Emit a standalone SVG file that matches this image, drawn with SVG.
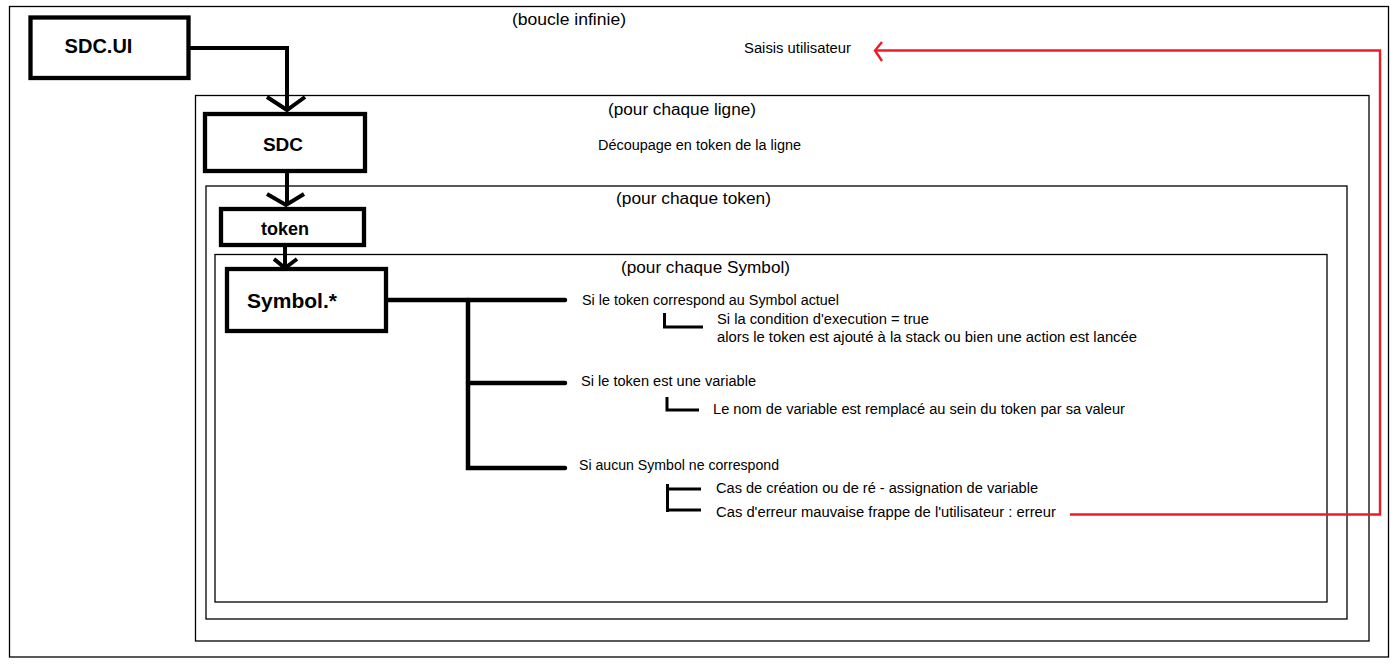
<svg xmlns="http://www.w3.org/2000/svg" width="1400" height="668" viewBox="0 0 1400 668">
<defs>
<style>
.frame{fill:none;stroke:#000;stroke-width:1.3}
.node{fill:#fff;stroke:#000;stroke-width:4.3}
.nt{font-family:"Liberation Sans",Arial,sans-serif;font-weight:bold;fill:#000;text-anchor:middle}
.t{font-family:"Liberation Sans",Arial,sans-serif;font-size:14px;fill:#000}
.h{font-family:"Liberation Sans",Arial,sans-serif;font-size:16px;fill:#000}
.c{fill:none;stroke:#000;stroke-width:4;stroke-linejoin:miter}
.b{fill:none;stroke:#000;stroke-width:4.5;stroke-linecap:round}
.s{fill:none;stroke:#000;stroke-width:3}
.r{fill:none;stroke:#ed1c24;stroke-width:2.4}
</style>
</defs>
<rect width="1400" height="668" fill="#fff"/>
<g id="frames">
<rect class="frame" x="9.5" y="6.5" width="1379" height="650.5"/>
<rect class="frame" x="195.5" y="95.5" width="1173.5" height="545.5"/>
<rect class="frame" x="206" y="186" width="1141" height="433"/>
<rect class="frame" x="215" y="254.5" width="1112" height="347.5"/>
</g>
<g id="labels">
<text class="h" x="512" y="25" textLength="114" lengthAdjust="spacingAndGlyphs">(boucle infinie)</text>
<text class="t" x="744" y="53" font-size="13" textLength="107" lengthAdjust="spacingAndGlyphs">Saisis utilisateur</text>
<text class="h" x="608" y="115" textLength="148" lengthAdjust="spacingAndGlyphs">(pour chaque ligne)</text>
<text class="t" x="598" y="150" font-size="13" textLength="203" lengthAdjust="spacingAndGlyphs">Découpage en token de la ligne</text>
<text class="h" x="616" y="204" textLength="155" lengthAdjust="spacingAndGlyphs">(pour chaque token)</text>
<text class="h" x="621" y="273" textLength="169" lengthAdjust="spacingAndGlyphs">(pour chaque Symbol)</text>
</g>
<g id="connectors">
<polyline class="c" points="188,48 287,48 287,110"/>
<polyline class="c" points="267,97 287,110 305,97"/>
<line class="c" x1="287" y1="171" x2="287" y2="205"/>
<polyline class="c" points="267,194 286,205 304,194"/>
<line class="c" x1="285" y1="245" x2="285" y2="268"/>
<polyline class="c" points="274,259 285,268 297,259"/>
<polyline class="b" points="386,300 565,300"/>
<polyline class="b" points="468,300 468,468 565,468"/>
<polyline class="b" points="468,383 565,383"/>
<polyline class="s" points="664.5,313 664.5,327 703,327"/>
<polyline class="s" points="667,397 667,410 699,410"/>
<polyline class="s" points="667.5,484 667.5,512"/>
<line class="s" x1="667" y1="489" x2="701" y2="489"/>
<line class="s" x1="667" y1="510" x2="701" y2="510"/>
<polyline class="r" points="1070,514.5 1380,514.5 1380,50.5 875,50.5"/>
<polyline class="r" points="882,42 875,50.5 882,61"/>
</g>
<g id="SDC.UI">
<rect class="node" x="30.5" y="17.5" width="158" height="60.5"/>
<text class="nt" x="98.5" y="53" font-size="20">SDC.UI</text>
</g>
<g id="SDC">
<rect class="node" x="205" y="114" width="160" height="57"/>
<text class="nt" x="283" y="151" font-size="19">SDC</text>
</g>
<g id="token">
<rect class="node" x="221" y="209" width="143" height="36"/>
<text class="nt" x="285" y="235" font-size="18">token</text>
</g>
<g id="Symbol">
<rect class="node" x="227" y="269" width="159" height="62"/>
<text class="nt" x="292" y="308" font-size="21">Symbol.*</text>
</g>
<g id="texts">
<text class="t" x="582" y="305" textLength="257" lengthAdjust="spacingAndGlyphs">Si le token correspond au Symbol actuel</text>
<text class="t" x="717" y="324" textLength="212" lengthAdjust="spacingAndGlyphs">Si la condition d'execution = true</text>
<text class="t" x="717" y="342" textLength="420" lengthAdjust="spacingAndGlyphs">alors le token est ajouté à la stack ou bien une action est lancée</text>
<text class="t" x="581" y="386" textLength="175" lengthAdjust="spacingAndGlyphs">Si le token est une variable</text>
<text class="t" x="713" y="414" textLength="412" lengthAdjust="spacingAndGlyphs">Le nom de variable est remplacé au sein du token par sa valeur</text>
<text class="t" x="579" y="470" textLength="200" lengthAdjust="spacingAndGlyphs">Si aucun Symbol ne correspond</text>
<text class="t" x="716" y="493" textLength="322" lengthAdjust="spacingAndGlyphs">Cas de création ou de ré - assignation de variable</text>
<text class="t" x="716" y="517" textLength="340" lengthAdjust="spacingAndGlyphs">Cas d'erreur mauvaise frappe de l'utilisateur : erreur</text>
</g>
</svg>
